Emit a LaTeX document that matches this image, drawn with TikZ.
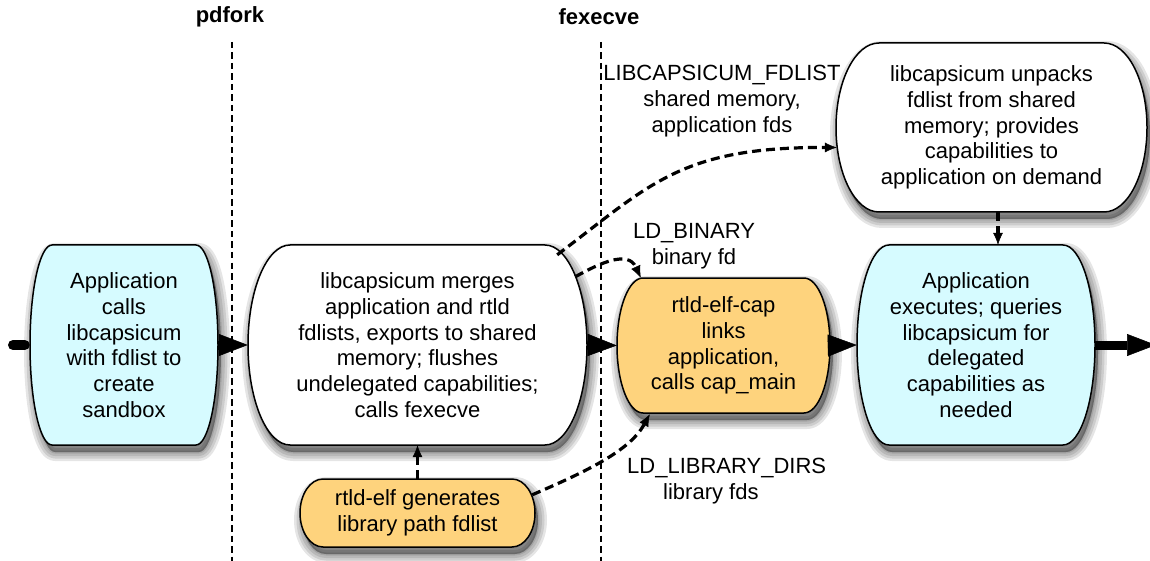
\documentclass[tikz,border=0pt]{standalone}
\usepackage{fontspec}
\setmainfont{Liberation Sans}
\usetikzlibrary{arrows.meta,calc}
\pgfdeclarelayer{background}
\pgfdeclarelayer{boxes}
\pgfsetlayers{background,boxes,main}

\definecolor{appcyan}{RGB}{214,251,255}
\definecolor{rtldorange}{RGB}{254,211,125}

\tikzset{
  boxtext/.style={align=center, inner sep=0pt, font=\fontsize{22}{25.7}\selectfont},
  boxline/.style={draw=black, line width=1.5pt},
  softshade/.style={fill=black, draw=black, line join=round, opacity=0.1, line width=#1},
  flow/.style={line width=9pt, -{Triangle[length=29pt,width=22pt,line width=0.5pt]}},
  feed/.style={line width=3.2pt, dash pattern=on 9pt off 5pt, -{Latex[length=12pt,width=10pt,line width=0.5pt]}},
  divider/.style={line width=1.3pt, dash pattern=on 6.5pt off 4pt},
  lbl/.style={inner sep=0pt, font=\fontsize{22}{25.7}\selectfont},
  head/.style={inner sep=0pt, font=\fontsize{22}{25.7}\selectfont\bfseries},
}

% outline of a box with straight top and bottom and bulging sides
% #1 left, #2 right, #3 top, #4 bottom, #5 side bulge
\newcommand\capsuleoutline[5]{%
  ({#1+#5},#3) -- ({#2-#5},#3)
  .. controls ({#2-0.4477*#5},#3) and (#2,{#3+0.4477*(#4-#3)/2}) .. (#2,{(#3+#4)/2})
  .. controls (#2,{#4-0.4477*(#4-#3)/2}) and ({#2-0.4477*#5},#4) .. ({#2-#5},#4)
  -- ({#1+#5},#4)
  .. controls ({#1+0.4477*#5},#4) and (#1,{#4-0.4477*(#4-#3)/2}) .. (#1,{(#3+#4)/2})
  .. controls (#1,{#3+0.4477*(#4-#3)/2}) and ({#1+0.4477*#5},#3) .. cycle}

% #1 name, #2 left, #3 right, #4 top, #5 bottom, #6 side bulge, #7 fill, #8 text
\newcommand\capsule[8]{%
  \node[boxtext, minimum width={(#3-#2)*1pt}, minimum height={(#5-#4)*1pt}]
    (#1) at ({(#2+#3)/2},{(#4+#5)/2}) {#8};
  \begin{pgfonlayer}{boxes}
    \begin{scope}[shift={(3,7)}]
      \foreach \w in {18,13,8,3} {\path[softshade=\w pt] \capsuleoutline{#2}{#3}{#4}{#5}{#6};}
    \end{scope}
    \path[boxline, fill=#7] \capsuleoutline{#2}{#3}{#4}{#5}{#6};
  \end{pgfonlayer}%
}

\begin{document}
\begin{tikzpicture}[x=1pt,y=-1pt]
\useasboundingbox (0,0) rectangle (1150,561);
\begin{pgfonlayer}{background}
  \fill[white] (0,0) rectangle (1150,561);
\end{pgfonlayer}

% process stages
\capsule{A}{30}{218}{245}{445}{22}{appcyan}{Application\\calls\\libcapsicum\\with fdlist to\\create\\sandbox}
\capsule{B}{248}{587}{245}{445}{42}{white}{libcapsicum merges\\application and rtld\\fdlists, exports to shared\\memory; flushes\\undelegated capabilities;\\calls fexecve}
\capsule{C}{617}{830}{278}{413}{26}{rtldorange}{rtld-elf-cap\\links\\application,\\calls cap\_main}
\capsule{D}{857}{1095}{245}{445}{32}{appcyan}{Application\\executes; queries\\libcapsicum for\\delegated\\capabilities as\\needed}
\capsule{E}{836}{1147}{43}{212}{43}{white}{libcapsicum unpacks\\fdlist from shared\\memory; provides\\capabilities to\\application on demand}
\capsule{F}{300}{535}{479}{547}{23}{rtldorange}{rtld-elf generates\\library path fdlist}

% system call boundaries
\node[head] (pdfork) at (230,17) {pdfork};
\node[head] (fexecve) at (599,17) {fexecve};
\coordinate (pdforktop) at (232,42);
\coordinate (pdforkbot) at (232,561);
\coordinate (fexecvetop) at (601,42);
\coordinate (fexecvebot) at (601,561);
\draw[divider] (pdforktop) -- (pdforkbot);
\draw[divider] (fexecvetop) -- (fexecvebot);

% main control flow
\coordinate (entry) at (13,345);
\coordinate (exit) at (1156,345);
\draw[line width=10pt, line cap=round] (entry) -- ($(A.west)+(-5,0)$);
\draw[flow] (A.east) -- (B.west);
\draw[flow] (B.east) -- (C.west);
\draw[flow] (C.east) -- (D.west);
\draw[flow] (D.east) -- (exit);

% descriptors handed across exec
\draw[feed] ($(B.north east)+(-30,10)$) .. controls (650,185) and (680,147) .. ($(E.west)+(1,20)$);
\draw[feed] ($(B.north east)+(-12,32)$) .. controls (600,263) and (628,250) .. ($(C.north west)+(24,0)$);
\draw[feed] ($(F.north east)+(-3,16)$) .. controls (590,470) and (630,450) .. ($(C.south west)+(33,1)$);
\draw[feed] (F.north) -- (B.south);
\coordinate (eout) at ($(E.south)+(6.5,0)$);
\draw[feed] (eout) -- (eout |- D.north);

% connector labels
\node[lbl, align=center] (fdlistlbl) at (722,101) {LIBCAPSICUM\_FDLIST\\shared memory,\\application fds};
\node[lbl, align=center] (binlbl) at (694,246) {LD\_BINARY\\binary fd};
\node[lbl, align=left, anchor=west] (liblbl) at (627,481) {LD\_LIBRARY\_DIRS\\\hspace*{36pt}library fds};
\end{tikzpicture}
\end{document}
